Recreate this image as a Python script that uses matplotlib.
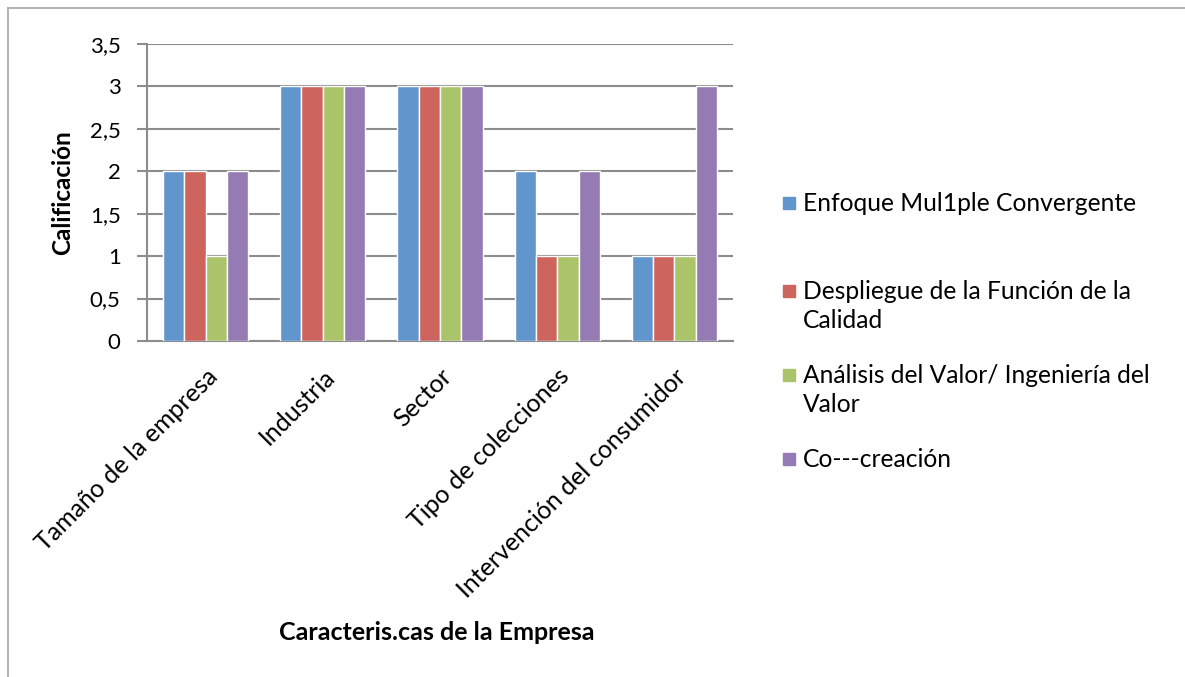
import matplotlib
matplotlib.use("Agg")
import matplotlib.pyplot as plt
import numpy as np
from matplotlib.lines import Line2D
from matplotlib.patches import Rectangle

plt.rcParams["font.family"] = ["Lato", "DejaVu Sans"]

categories = ["Tamaño de la empresa", "Industria", "Sector",
              "Tipo de colecciones", "Intervención del consumidor"]
series_names = ["Enfoque Mul1ple Convergente",
                "Despliegue de la Función de la\nCalidad",
                "Análisis del Valor/ Ingeniería del\nValor",
                "Co---creación"]
enfoque = [2, 3, 3, 2, 1]
despliegue = [2, 3, 3, 1, 1]
analisis = [1, 3, 3, 1, 1]
cocreacion = [2, 3, 3, 2, 3]
y_ticks = [0, 0.5, 1, 1.5, 2, 2.5, 3, 3.5]
y_tick_labels = ["0", "0,5", "1", "1,5", "2", "2,5", "3", "3,5"]

colors = ["#6096CB", "#CE645E", "#ABC46A", "#957BB3"]
grid_color = "#8C8C8C"

W, H = 1185, 677
fig = plt.figure(figsize=(W / 100, H / 100), dpi=100)
ax = fig.add_axes([147 / W, 1 - 341 / H, (733 - 147) / W, (341 - 44) / H])

x = np.arange(len(categories))
bar_w = 1 / 5.5
for i, vals in enumerate([enfoque, despliegue, analisis, cocreacion]):
    ax.bar(x + (i - 1.5) * bar_w, vals, bar_w, color=colors[i],
           edgecolor="white", linewidth=1.0, zorder=3)

ax.set_xlim(-0.5, len(categories) - 0.5)
ax.set_ylim(0, 3.5)
ax.set_yticks(y_ticks)
ax.set_yticklabels(y_tick_labels, fontsize=16)
ax.yaxis.grid(True, color=grid_color, linewidth=1.5, zorder=0)
ax.set_axisbelow(True)
ax.tick_params(axis="y", length=7, width=1.5, color=grid_color, pad=12)
ax.tick_params(axis="x", length=0, pad=17)
for side in ["top", "right"]:
    ax.spines[side].set_visible(False)
for side in ["left", "bottom"]:
    ax.spines[side].set_color(grid_color)
    ax.spines[side].set_linewidth(1.5)

ax.set_xticks(x)
ax.set_xticklabels(categories, rotation=45, ha="right", va="top",
                   rotation_mode="anchor", fontsize=18)

ax.set_ylabel("Calificación", fontsize=17.5, fontweight="bold", labelpad=11)
fig.text(437 / W, 1 - 632 / H, "Caracteris.cas de la Empresa",
         ha="center", va="center", fontsize=18, fontweight="bold")

# legend drawn by hand to keep the spaced-out layout
legend_y = [203, 291, 375, 459]
for name, c, yp in zip(series_names, colors, legend_y):
    fig.add_artist(Rectangle((783 / W, 1 - (yp + 6) / H), 12 / W, 12 / H,
                             transform=fig.transFigure, color=c))
    fig.text(803 / W, 1 - (yp - 11) / H, name, ha="left", va="top",
             fontsize=17.7, linespacing=1.33)

# chart frame
frame = "#A6A6A6"
fig.add_artist(Line2D([8 / W, 1], [1 - 8 / H, 1 - 8 / H], color=frame,
                      linewidth=1.2, transform=fig.transFigure))
fig.add_artist(Line2D([8 / W, 8 / W], [0, 1 - 8 / H], color=frame,
                      linewidth=1.2, transform=fig.transFigure))

fig.savefig("out.png", dpi=100)
